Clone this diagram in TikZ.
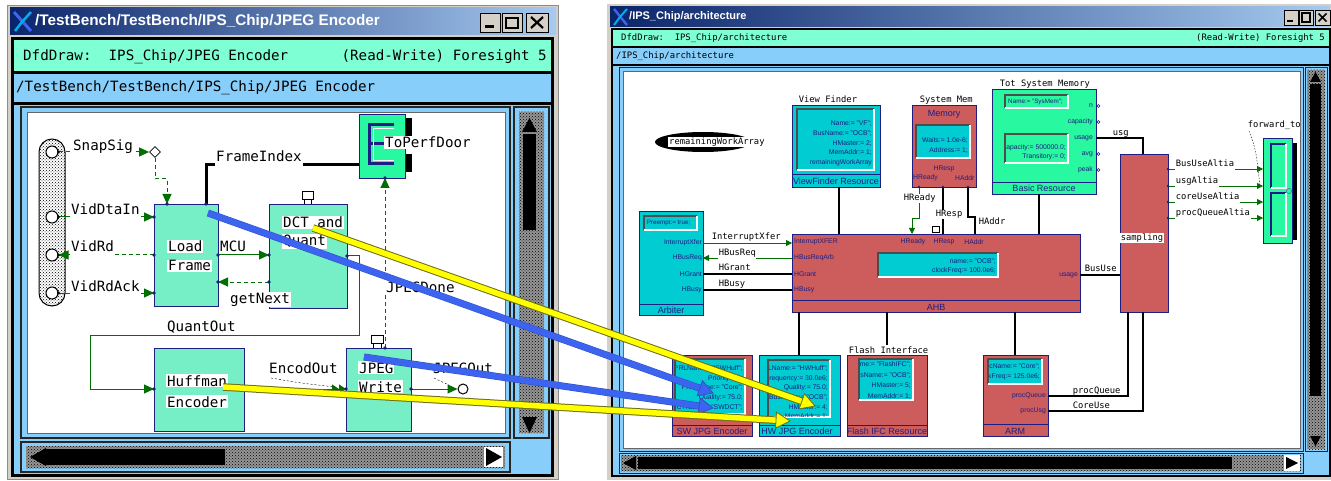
\documentclass[tikz,border=0pt]{standalone}
\usepackage{fontspec}
\setmainfont{Liberation Sans}
\newfontfamily\monof{DejaVu Sans Mono}
\usetikzlibrary{arrows.meta,patterns,calc,shapes.geometric}

\definecolor{winGray}{RGB}{212,208,200}
\definecolor{barGreen}{RGB}{127,255,212}
\definecolor{barBlue}{RGB}{135,206,250}
\definecolor{titleDark}{RGB}{10,36,106}
\definecolor{titleLight}{RGB}{166,202,240}
\definecolor{aqua}{RGB}{118,238,198}
\definecolor{mint}{RGB}{40,248,160}
\definecolor{redBox}{RGB}{205,92,92}
\definecolor{cyanBox}{RGB}{0,204,210}
\definecolor{navyT}{RGB}{30,30,130}
\definecolor{wireGreen}{RGB}{0,110,0}
\definecolor{ovBlue}{RGB}{60,100,240}
\definecolor{ovYellow}{RGB}{255,255,0}
\definecolor{ovEdge}{RGB}{110,110,20}
\definecolor{scrollGray}{RGB}{150,150,150}

\tikzset{
  lbl/.style={font=\fontsize{14.2}{17}\monof, inner sep=1pt, fill=white, anchor=base west},
  lblc/.style={lbl, text depth=5pt},
  rlbl/.style={font=\fontsize{8.8}{10}\monof, inner sep=0.6pt, fill=white, anchor=base west},
  rlblc/.style={rlbl, text depth=2.6pt},
  barL/.style={font=\fontsize{14.2}{17}\monof, inner sep=0pt},
  barR/.style={font=\fontsize{8.9}{10}\monof, inner sep=0pt},
  lbox/.style={draw=navyT, fill=aqua, line width=1pt, anchor=north west, inner sep=0pt},
  rbox/.style={draw=navyT, line width=0.8pt, anchor=north west, inner sep=0pt},
  ptext/.style={font=\fontsize{6.8}{9.6}\selectfont, text=navyT, inner sep=0pt, align=right},
  btitle/.style={font=\fontsize{9}{10}\selectfont, text=navyT, inner sep=0pt},
  portc/.style={circle, draw=black, line width=1pt, fill=white, minimum size=12pt, inner sep=0pt},
  gwire/.style={draw=wireGreen, line width=1pt},
  gdash/.style={gwire, dash pattern=on 4pt off 3pt},
  garrow/.style={-{Triangle[length=10pt,width=9pt]}},
  rgw/.style={draw=wireGreen, line width=0.8pt},
  rgarrow/.style={-{Triangle[length=6pt,width=6pt]}},
  bwireL/.style={draw=black, line width=3pt},
  bwireR/.style={draw=black, line width=2.6pt},
  scrollfill/.style={fill=scrollGray},
}

% sunken parameter panel: x1 y1 x2 y2 fill
\newcommand\sunkbox[5]{%
  \fill[#5] (#1,#2) rectangle (#3,#4);
  \draw[black!70, line width=1.6pt] (#1,#4) -- (#1,#2) -- (#3,#2);
  \draw[white, line width=1.6pt] (#1,#4) -- (#3,#4) -- (#3,#2);
}
% thick overlay arrow: fill, edge, source, tip, edge width, fill width
\newcommand\ovarrow[6]{%
  \coordinate (ovbase) at ($(#4)!14pt!(#3)$);
  \draw[#2, line width=#5] (#3) -- (ovbase);
  \draw[#1, line width=#6] (#3) -- (ovbase);
  \filldraw[fill=#1, draw=#2, line width=0.8pt, line join=miter]
    ($(ovbase)!8pt!90:(#4)$) -- (#4) -- ($(ovbase)!8pt!-90:(#4)$) -- cycle;
}

\begin{document}
\begin{tikzpicture}[x=1pt,y=-1pt]
\useasboundingbox (0,0) rectangle (1331,481);
\fill[white] (0,0) rectangle (1331,481);

%==================== left window: frame and bars
\fill[winGray] (7,5) rectangle (559,480);
\draw[black!45] (7.5,5.5) rectangle (558.5,479.5);
\shade[left color=titleDark, right color=titleLight] (10,8) rectangle (556,35);
\draw[line width=3pt, ovBlue] (14,12) -- (31,31);
\draw[line width=2.5pt, cyan] (31,12) -- (22,22) -- (15,31);
\node[anchor=west, text=white, font=\fontsize{15.3}{16}\bfseries, inner sep=0pt] at (35,22) {/TestBench/TestBench/IPS\_Chip/JPEG Encoder};
\filldraw[fill=winGray, draw=black] (480,13) rectangle (500,32);
\fill (485,25.5) rectangle (494,28.5);
\filldraw[fill=winGray, draw=black] (502,13) rectangle (522,32);
\draw[line width=1.5pt] (506,17.5) rectangle (518,28);
\draw[line width=2.5pt] (506,18) -- (518,18);
\filldraw[fill=winGray, draw=black] (526,13) rectangle (548,32);
\draw[line width=2.2pt] (531,17) -- (543,28) (543,17) -- (531,28);

\fill[black] (11,37) rectangle (554,477);
\fill[barGreen] (14,40) rectangle (551,71);
\fill[barBlue] (14,74) rectangle (551,102);
\fill[barBlue] (14,105) rectangle (551,474);
\node[barL, anchor=west] at (23,57) {DfdDraw:\ \ IPS\_Chip/JPEG Encoder};
\node[barL, anchor=east] at (547,57) {(Read-Write) Foresight 5};
\node[barL, anchor=west] at (16,88) {/TestBench/TestBench/IPS\_Chip/JPEG Encoder};

% drawing canvas
\draw[line width=1.2pt, black!85] (21,107) rectangle (510,438);
\fill[white] (27,112) rectangle (505,433);
\draw[black!60] (27,112) rectangle (505,433);

% vertical scroll bar
\draw[line width=1.2pt, black!85] (514,107) rectangle (549,438);
\fill[scrollfill] (519,112) rectangle (544,433);
\fill[pattern=crosshatch dots, pattern color=black] (519,112) rectangle (544,433);
\fill[black] (523,134) rectangle (536,230);
\fill[black] (529.5,118) -- (537,132) -- (522,132) -- cycle;
\fill[black] (522,417) -- (537,417) -- (529.5,433) -- cycle;

% horizontal scroll bar
\draw[line width=1.2pt, black!85] (21,442) rectangle (510,472);
\fill[scrollfill] (26,446) rectangle (505,468);
\fill[pattern=crosshatch dots, pattern color=black] (26,446) rectangle (505,468);
\fill[black] (46,449) rectangle (225,465);
\fill[black] (30,457) -- (46,448) -- (46,466) -- cycle;
\fill[white] (484,447) rectangle (503,467);
\fill[black] (502,457) -- (486,448) -- (486,466) -- cycle;

%==================== left window: data flow diagram
% test bench port strip
\path[fill=white, rounded corners=13pt] (39,139) rectangle (65,306);
\path[pattern=crosshatch dots, pattern color=black, rounded corners=13pt] (39,139) rectangle (65,306);
\draw[line width=1pt, rounded corners=13pt] (39,139) rectangle (65,306);
\node[portc] (pSnap) at (52,152) {};
\node[portc] (pDta) at (52,217) {};
\node[portc] (pRd) at (52,255) {};
\node[portc] (pAck) at (52,293) {};

% processes
\node[lbox, minimum width=64pt, minimum height=102pt] (lf) at (154,204) {};
\node[lbox, minimum width=78pt, minimum height=104pt] (dct) at (269,204) {};
\node[lbox, minimum width=90pt, minimum height=83pt] (huf) at (154,348) {};
\node[lbox, minimum width=65pt, minimum height=83pt] (jw) at (346,348) {};

% output door
\fill[black] (405,118) rectangle (412,136);
\fill[black] (405,154) rectangle (412,172);
\node[lbox, fill=mint, minimum width=46pt, minimum height=64pt] (tpd) at (359,114) {};
\draw[navyT, line width=3pt] (394,124.5) -- (369.5,124.5) -- (369.5,163.5) -- (394,163.5);
\draw[navyT, line width=3pt] (369.5,144) -- (388,144);
\draw[white, line width=0.8pt] (394,128) -- (373,128) -- (373,160) -- (394,160);

% event diamond
\node[diamond, draw=black, fill=white, line width=0.8pt, minimum size=11pt, inner sep=0pt] (dia) at (155,152) {};

% control port icons
\draw[black, fill=white, line width=0.8pt] (302,191) rectangle (313,199);
\draw[black, line width=0.8pt] (304,199) -- (304,204) (311,199) -- (311,204);
\draw[black, fill=white, line width=0.8pt] (371,335) rectangle (383,343);
\draw[black, line width=0.8pt] (373,343) -- (373,348) (381,343) -- (381,348);

% port coordinates
\coordinate (lfT1) at (167,204);
\coordinate (lfT2) at (206,204);
\coordinate (lfL1) at (154,217);
\coordinate (lfL2) at (154,255);
\coordinate (lfL3) at (154,293);
\coordinate (lfR1) at (218,255);
\coordinate (lfR2) at (218,282);
\coordinate (dctL1) at (269,255);
\coordinate (dctL2) at (269,282);
\coordinate (dctR) at (347,256);
\coordinate (hufL) at (154,389);
\coordinate (hufR) at (244,389);
\coordinate (jwL) at (346,389);
\coordinate (jwR) at (411,389);
\coordinate (jwT) at (385,348);
\coordinate (tpdB) at (385,178);
\coordinate (tpdL) at (359,165);
\node[circle, draw=black, line width=1pt, fill=white, minimum size=10pt, inner sep=0pt] (term) at (463,389) {};

% flows
\draw[gdash, garrow] (pSnap.east) -- (dia.west);
\draw[gdash, garrow] (dia.south) -- ++(0,21) -| (lfT1);
\draw[gwire, garrow] (pDta.east) -- (lfL1);
\draw[gdash, garrow] (lfL2) -- (pRd.east);
\draw[gwire, garrow] (pAck.east) -- (lfL3);
\draw[gwire, garrow] (lfR1) -- (dctL1);
\draw[gdash, garrow] (dctL2) -- (lfR2);
\draw[gwire, garrow] (dctR) -- ++(12,0) -- ++(0,79) -- ++(-269,0) |- (hufL);
\draw[bwireL] (lfT2) |- (tpdL);
\draw[gdash, garrow] (jwT) -- (tpdB);
\draw[gwire, -{Triangle[length=7pt,width=9pt] Triangle[length=7pt,width=9pt]}] (hufR) -- (jwL);
\draw[gwire, garrow] (jwR) -- (term.west);
\foreach \p in {lfT1,lfT2,lfL1,lfL2,lfL3,lfR1,lfR2,dctL1,dctL2,dctR,hufL,hufR,jwL,jwR,jwT,tpdB}
  \fill[navyT] (\p) circle (1.8);
\foreach \p in {pSnap,pDta,pRd,pAck}
  \fill[black] (\p.east) circle (1.6);

% flow labels
\node[lbl] at (72,151) {SnapSig};
\node[lblc] at (70,215) {VidDtaIn};
\node[lblc] at (70,252) {VidRd};
\node[lblc] at (70,291) {VidRdAck};
\node[lblc] at (215,162) {FrameIndex};
\node[lbl] at (219,252) {MCU};
\node[lbl] at (229,303) {getNext};
\node[lbl] at (166,331) {QuantOut};
\node[lbl] at (268,373) {EncodOut};
\node[lbl] at (432,373) {JPEGOut};
\node[lbl] at (385,292) {JPEGDone};
\node[lbl] at (384,148) {ToPerfDoor};
\draw[black, dash pattern=on 2pt off 2pt] (271,378) .. controls (300,383) .. (335,387);
\draw[black, dash pattern=on 2pt off 2pt] (434,378) .. controls (440,381) .. (449,385);

% process names
\node[lbl] at (167,252) {Load};
\node[lbl] at (167,271) {Frame};
\node[lbl] at (282,228) {DCT and};
\node[lbl] at (282,246) {Quant};
\node[lbl] at (166,386) {Huffman};
\node[lbl] at (166,407) {Encoder};
\node[lbl] at (358,373) {JPEG};
\node[lbl] at (358,392) {Write};

%==================== right window: frame and bars
\fill[winGray] (607,4) rectangle (1331,480);
\shade[left color=titleDark, right color=titleLight] (610,7) rectangle (1330,27);
\draw[line width=2.4pt, ovBlue] (614,9) -- (627,25);
\draw[line width=2pt, cyan] (627,9) -- (620,17) -- (614,25);
\node[anchor=west, text=white, font=\fontsize{11}{12}\bfseries, inner sep=0pt] at (629,17) {/IPS\_Chip/architecture};
\filldraw[fill=winGray, draw=black] (1284,10) rectangle (1298,25);
\fill (1287,20.5) rectangle (1293,22.5);
\filldraw[fill=winGray, draw=black] (1299,10) rectangle (1313,25);
\draw[line width=1.1pt] (1302,13) rectangle (1310,22);
\filldraw[fill=winGray, draw=black] (1315,10) rectangle (1330,25);
\draw[line width=1.6pt] (1318.5,13.5) -- (1326.5,21.5) (1326.5,13.5) -- (1318.5,21.5);

\fill[black] (611,28) rectangle (1331,477);
\fill[barGreen] (613,30) rectangle (1329,46);
\fill[barBlue] (613,48) rectangle (1329,64);
\fill[barBlue] (613,66) rectangle (1329,475);
\node[barR, anchor=west] at (621,38.5) {DfdDraw:\ \ IPS\_Chip/architecture};
\node[barR, anchor=east] at (1325,38.5) {(Read-Write) Foresight 5};
\node[barR, anchor=west] at (616,56.5) {/IPS\_Chip/architecture};

\draw[line width=1pt, black!85] (619,68) rectangle (1303,451);
\fill[white] (623,71) rectangle (1300,448);
\draw[black!60] (623,71) rectangle (1300,448);

\draw[line width=1pt, black!85] (1305,68) rectangle (1327,451);
\fill[scrollfill] (1307,70) rectangle (1325,449);
\fill[pattern=crosshatch dots, pattern color=black] (1307,70) rectangle (1325,449);
\fill[black] (1310,84) rectangle (1321,396);
\fill[black] (1315.5,72) -- (1321,82) -- (1310,82) -- cycle;
\fill[black] (1310,436) -- (1321,436) -- (1315.5,446) -- cycle;

\draw[line width=1pt, black!85] (619,453) rectangle (1303,473);
\fill[scrollfill] (621,455) rectangle (1301,471);
\fill[pattern=crosshatch dots, pattern color=black] (621,455) rectangle (1301,471);
\fill[black] (638,457) rectangle (1232,469);
\fill[black] (623,463) -- (636,456) -- (636,470) -- cycle;
\fill[white] (1284,455) rectangle (1300,471);
\fill[black] (1298,463) -- (1286,457) -- (1286,469) -- cycle;

%==================== right window: architecture diagram
% work array store
\fill[black] (703,142) ellipse [x radius=48, y radius=10];
\node[rlbl, anchor=west, inner sep=1pt] (rwa) at (668,142) {remainingWorkArray};

% View Finder
\node[rbox, fill=cyanBox, minimum width=88pt, minimum height=82pt] (vf) at (792,105) {};
\sunkbox{797}{109}{874}{170}{cyanBox}
\begin{scope}
  \clip (798,110) rectangle (873,169);
  \node[ptext, anchor=north east] at (872,121) {Name:= "VF";\\BusName:= "OCB";\\HMaster:= 2;\\MemAddr:= 1;\\remainingWorkArray};
\end{scope}
\draw[navyT, line width=0.8pt] (792,174) -- (880,174);
\node[btitle] at (836,181) {ViewFinder Resource};
\node[rlbl] at (798,103) {View Finder};

% System Mem
\node[rbox, fill=redBox, minimum width=64pt, minimum height=82pt] (sm) at (912,105) {};
\node[btitle] at (944,114) {Memory};
\sunkbox{916}{125}{970}{158}{cyanBox}
\node[ptext, anchor=north east] at (968,137.5) {Waits:= 1.0e-6;\\Address:= 1;};
\node[ptext] at (944,169) {HResp};
\node[ptext, anchor=west] at (913,178) {HReady};
\begin{scope}
  \clip (912,105) rectangle (975.5,187);
  \node[ptext, anchor=west] at (955,178) {HAddr};
\end{scope}
\node[rlbl] at (919,103) {System Mem};

% Tot System Memory
\node[rbox, fill=mint, minimum width=104pt, minimum height=105pt] (tsm) at (992,89) {};
\sunkbox{1005}{95}{1068}{108}{mint}
\begin{scope}
  \clip (1006,96) rectangle (1067,107);
  \node[ptext, anchor=west, font=\fontsize{6.3}{8}\selectfont] at (1008,101.5) {Name:= "SysMem";};
\end{scope}
\sunkbox{1005}{134}{1068}{163}{mint}
\begin{scope}
  \clip (1006,135) rectangle (1067,162);
  \node[ptext, anchor=north east] at (1066,144) {Capacity:= 500000.0;\\Transitory:= 0;};
\end{scope}
\node[ptext, anchor=east] at (1093,106) {n};
\node[ptext, anchor=east] at (1093,122) {capacity};
\node[ptext, anchor=east] at (1093,138) {usage};
\node[ptext, anchor=east] at (1093,154) {avg};
\node[ptext, anchor=east] at (1093,170) {peak};
\foreach \yy in {106,122,154,170}
  \draw[navyT, line width=0.6pt] (1098.5,\yy) circle (1.5);
\draw[navyT, line width=0.8pt] (992,182) -- (1096,182);
\node[btitle] at (1044,188) {Basic Resource};
\node[rlbl] at (999,87) {Tot System Memory};

% sampling
\node[rbox, fill=redBox, minimum width=48pt, minimum height=158pt] (smp) at (1120,154) {};
\node[rlbl, anchor=west] at (1120,238) {sampling};

% forward_to
\fill[black] (1292,143) rectangle (1297,240);
\node[rbox, fill=mint, minimum width=29pt, minimum height=105pt] (fwd) at (1263,138) {};
\draw[navyT, line width=1.3pt] (1271,188) -- (1271,144) -- (1286,144);
\draw[white, line width=1.3pt] (1271,188) -- (1286,188) -- (1286,144);
\draw[navyT, line width=1.3pt] (1271,236) -- (1271,193) -- (1286,193);
\draw[white, line width=1.3pt] (1271,236) -- (1286,236) -- (1286,193);
\draw[cyan!50!navyT, line width=0.7pt] (1289,191) circle (2.6);
\begin{scope}
  \clip (623,71) rectangle (1300,448);
  \node[rlbl] at (1247,128) {forward\_to};
\end{scope}
\draw[black, dash pattern=on 1.5pt off 1.5pt] (1249,131) .. controls (1256,150) .. (1260,187);

% Arbiter
\node[rbox, fill=cyanBox, minimum width=64pt, minimum height=104pt] (arb) at (639,211) {};
\sunkbox{644}{216}{697}{230}{cyanBox}
\begin{scope}
  \clip (646,217) rectangle (696,229);
  \node[ptext, anchor=west, font=\fontsize{6.3}{8}\selectfont] at (642,223) {HPreempt:= true;};
\end{scope}
\node[ptext, anchor=east] at (702,243) {InterruptXfer};
\node[ptext, anchor=east] at (702,258) {HBusReq};
\node[ptext, anchor=east] at (702,274) {HGrant};
\node[ptext, anchor=east] at (702,290) {HBusy};
\draw[navyT, line width=0.8pt] (639,304) -- (703,304);
\node[btitle] at (671,310) {Arbiter};

% AHB bus
\node[rbox, fill=redBox, minimum width=288pt, minimum height=78pt] (ahb) at (792,234) {};
\node[ptext, anchor=west] at (794,242) {InterruptXFER};
\node[ptext, anchor=west] at (794,258) {HBusReqArb};
\node[ptext, anchor=west] at (794,274) {HGrant};
\node[ptext, anchor=west] at (794,290) {HBusy};
\node[ptext] at (913,242) {HReady};
\node[ptext] at (944,242) {HResp};
\node[ptext] at (974,242) {HAddr};
\sunkbox{878}{253}{998}{277}{cyanBox}
\node[ptext, anchor=north east, font=\fontsize{6.8}{9}\selectfont] at (996,258.5) {name:= "OCB";\\clockFreq:= 100.0e6;};
\node[ptext, anchor=east] at (1078,275) {usage};
\draw[navyT, line width=0.8pt] (792,300) -- (1080,300);
\node[btitle] at (936,307) {AHB};
\draw[black, fill=white, line width=0.7pt] (932,226) rectangle (939,232);

% SW JPG Encoder
\node[rbox, fill=redBox, minimum width=80pt, minimum height=81pt] (swj) at (672,355) {};
\sunkbox{675}{359}{745}{414}{cyanBox}
\begin{scope}
  \clip (676,360) rectangle (744,413);
  \node[ptext, anchor=north east] at (743,365.5) {PRLName:= "SWHuff";\\Priority:= 0;\\ProcName:= "Core";\\Quality:= 75.0;\\DCTName:= "SWDCT";};
\end{scope}
\draw[navyT, line width=0.8pt] (672,425) -- (752,425);
\node[btitle] at (712,431) {SW JPG Encoder};

% HW JPG Encoder
\node[rbox, fill=cyanBox, minimum width=81pt, minimum height=81pt] (hwj) at (759,355) {};
\sunkbox{768}{360}{830}{417}{cyanBox}
\begin{scope}
  \clip (769,361) rectangle (829,416);
  \node[ptext, anchor=north east] at (828,365.5) {HLName:= "HWHuff";\\Frequency:= 30.0e6;\\Quality:= 75.0;\\BusName:= "OCB";\\HMaster:= 4;\\MemAddr:= 1;};
\end{scope}
\draw[navyT, line width=0.8pt] (759,425) -- (840,425);
\node[btitle] at (797,431) {HW JPG Encoder};

% Flash IFC Resource
\node[rbox, fill=redBox, minimum width=80pt, minimum height=81pt] (fls) at (847,355) {};
\sunkbox{859}{359}{913}{400}{cyanBox}
\begin{scope}
  \clip (860,360) rectangle (912,399);
  \node[ptext, anchor=north east, font=\fontsize{6.8}{10.5}\selectfont] at (911,361.5) {Name:= "FlashIFC";\\BusName:= "OCB";\\HMaster:= 5;\\MemAddr:= 1;};
\end{scope}
\draw[navyT, line width=0.8pt] (847,425) -- (927,425);
\node[btitle] at (887,431) {Flash IFC Resource};
\node[rlbl] at (848,353) {Flash Interface};

% ARM
\node[rbox, fill=redBox, minimum width=65pt, minimum height=81pt] (arm) at (983,355) {};
\sunkbox{988}{359}{1042}{384}{cyanBox}
\begin{scope}
  \clip (989,360) rectangle (1041,383);
  \node[ptext, anchor=north east, font=\fontsize{6.8}{10}\selectfont] at (1040,363.5) {ProcName:= "Core";\\ClockFreq:= 125.0e6;};
\end{scope}
\node[ptext, anchor=east] at (1046,396) {procQueue};
\node[ptext, anchor=east] at (1046,411) {procUsg};
\draw[navyT, line width=0.8pt] (983,424) -- (1048,424);
\node[btitle] at (1015,431) {ARM};

% connection points
\coordinate (arbI) at (703,243);
\coordinate (arbR) at (703,258);
\coordinate (arbG) at (703,274);
\coordinate (arbB) at (703,290);
\coordinate (ahbI) at (792,243);
\coordinate (ahbR) at (792,258);
\coordinate (ahbG) at (792,274);
\coordinate (ahbB) at (792,290);
\coordinate (ahbT1) at (839,234);
\coordinate (ahbT2) at (1039,234);
\coordinate (ahbHR) at (912,234);
\coordinate (ahbHS) at (943,234);
\coordinate (ahbHA) at (975,234);
\coordinate (ahbU) at (1080,275);
\coordinate (ahbB1) at (799,312);
\coordinate (ahbB2) at (887,312);
\coordinate (ahbB3) at (1015,312);
\coordinate (vfB) at (839,187);
\coordinate (smR) at (919,187);
\coordinate (smS) at (943,187);
\coordinate (smA) at (968,187);
\coordinate (tsmB) at (1039,194);
\coordinate (tsmU) at (1096,138);
\coordinate (smpT) at (1143,154);
\coordinate (smpU) at (1120,275);
\coordinate (smpQ) at (1128,312);
\coordinate (smpC) at (1143,312);
\coordinate (smpO1) at (1168,169);
\coordinate (smpO2) at (1168,186);
\coordinate (smpO3) at (1168,202);
\coordinate (smpO4) at (1168,218);
\coordinate (fwdI1) at (1263,169);
\coordinate (fwdI2) at (1263,186);
\coordinate (fwdI3) at (1263,202);
\coordinate (fwdI4) at (1263,218);
\coordinate (hwT) at (799,355);
\coordinate (flsL) at (887,345);
\coordinate (armT) at (1015,355);
\coordinate (armQ) at (1048,396);
\coordinate (armU) at (1048,411);

% links
\draw[rgw, rgarrow] (arbI) -- (ahbI);
\draw[rgw, rgarrow] (ahbR) -- (arbR);
\draw[bwireR] (arbG) -- (ahbG);
\draw[bwireR] (arbB) -- (ahbB);
\draw[bwireR] (vfB) -- (ahbT1);
\draw[bwireR] (tsmB) -- (ahbT2);
\draw[rgw, rgarrow] (smR) -- ++(0,31) -| (ahbHR);
\draw[bwireR] (smS) -- (ahbHS);
\draw[bwireR] (smA) -- ++(0,30) -| (ahbHA);
\draw[bwireR] (ahbU) -- (smpU);
\draw[bwireR] (tsmU) -| (smpT);
\draw[bwireR] (ahbB1) -- (hwT);
\draw[bwireR] (ahbB2) -- (flsL);
\draw[bwireR] (ahbB3) -- (armT);
\draw[bwireR] (armQ) -| (smpQ);
\draw[bwireR] (armU) -| (smpC);
\draw[rgw, rgarrow] (smpO1) -- (fwdI1);
\draw[rgw, rgarrow] (smpO2) -- (fwdI2);
\draw[rgw, rgarrow] (smpO3) -- (fwdI3);
\draw[rgw, rgarrow] (smpO4) -- (fwdI4);
\foreach \p in {smpO1,smpO2,smpO3,smpO4,smR,smS,smA}
  \fill[navyT] (\p) circle (1.4);

% link labels
\node[rlblc] at (711,240) {InterruptXfer};
\node[rlblc] at (718,255.5) {HBusReq};
\node[rlbl, fill=none] at (718,271) {HGrant};
\node[rlbl, fill=none] at (718,287) {HBusy};
\node[rlbl] at (903,201) {HReady};
\node[rlbl] at (935,217) {HResp};
\node[rlbl] at (978,225) {HAddr};
\node[rlbl, fill=none] at (1084,272) {BusUse};
\node[rlbl, fill=none] at (1112,136) {usg};
\node[rlblc] at (1175,166.5) {BusUseAltia};
\node[rlblc] at (1175,183.5) {usgAltia};
\node[rlblc] at (1175,199.5) {coreUseAltia};
\node[rlblc] at (1175,215.5) {procQueueAltia};
\node[rlbl, fill=none] at (1072,393.5) {procQueue};
\node[rlbl, fill=none] at (1072,408.5) {CoreUse};

%==================== mapping arrows between the two views
\coordinate (bS1) at (208,213);
\coordinate (bT1) at (713,393);
\coordinate (bS2) at (364,357);
\coordinate (bT2) at (713,408);
\coordinate (yS1) at (313,228);
\coordinate (yT1) at (815,406);
\coordinate (yS2) at (223,387);
\coordinate (yT2) at (790,421);
\ovarrow{ovBlue}{ovBlue!80!black}{bS1}{bT1}{7pt}{6pt}
\ovarrow{ovBlue}{ovBlue!80!black}{bS2}{bT2}{7pt}{6pt}
\ovarrow{ovYellow}{ovEdge}{yS1}{yT1}{7.5pt}{5.5pt}
\ovarrow{ovYellow}{ovEdge}{yS2}{yT2}{7.5pt}{5.5pt}
\end{tikzpicture}
\end{document}
